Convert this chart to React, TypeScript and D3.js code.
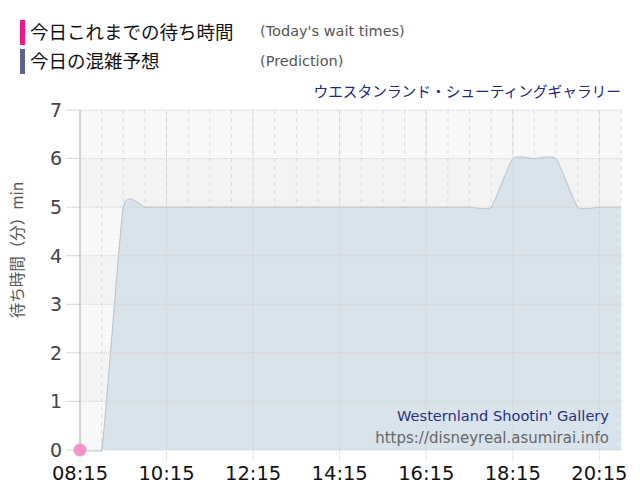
import React from 'react'
import * as d3 from 'd3'

// prediction, sampled every 30 min from 08:15 (last point lies past the visible end and is clipped)
const predTimes = ['08:15', '08:45', '09:15', '09:45', '10:15', '10:45', '11:15', '11:45', '12:15', '12:45',
    '13:15', '13:45', '14:15', '14:45', '15:15', '15:45', '16:15', '16:45', '17:15', '17:45',
    '18:15', '18:45', '19:15', '19:45', '20:15', '20:45', '21:15']
const predValues = [0, 0, 5, 5, 5, 5, 5, 5, 5, 5,
    5, 5, 5, 5, 5, 5, 5, 5, 5, 5,
    6, 6, 6, 5, 5, 5, 5]

const waitTimes = ['08:15']
const waitValues = [0]

const xTickLabels = ['08:15', '10:15', '12:15', '14:15', '16:15', '18:15', '20:15']
const yTicks = [0, 1, 2, 3, 4, 5, 6, 7]

const toMin = (s: string) => {
    const [h, m] = s.split(':').map(Number)
    return h * 60 + m
}

const margin = { top: 110, right: 19, bottom: 50, left: 80 }
const width = 640
const height = 500
const innerW = width - margin.left - margin.right
const innerH = height - margin.top - margin.bottom

const jp = '"Noto Sans CJK JP", sans-serif'
const latin = '"DejaVu Sans", Verdana, sans-serif'

export default function App() {
    const x = d3.scaleLinear().domain([toMin('08:15'), toMin('20:45')]).range([0, innerW])
    const y = d3.scaleLinear().domain([0, 7]).range([innerH, 0])

    const pred = predTimes.map((t, i) => [toMin(t), predValues[i]] as [number, number])
    const curve = d3.curveCardinal.tension(0.55)
    const area = d3.area<[number, number]>()
        .x(d => x(d[0])).y0(y(0)).y1(d => y(d[1]))
        .curve(curve)
    const line = d3.line<[number, number]>()
        .x(d => x(d[0])).y(d => y(d[1]))
        .curve(curve)

    const halfHours = d3.range(toMin('08:45'), toMin('20:45') + 1, 30)

    return (
        <svg width={width} height={height} style={{ position: 'absolute', left: 0, top: 0 }}>
            <defs>
                <pattern id="dots" width="4" height="4" patternUnits="userSpaceOnUse">
                    <rect width="4" height="4" fill="#f9f9f9" />
                    <rect x="1" y="1" width="1" height="1" fill="#ececec" />
                </pattern>
                <clipPath id="plotClip">
                    <rect x={0} y={0} width={innerW} height={innerH + 2} />
                </clipPath>
            </defs>

            {/* legend */}
            <rect x={20} y={20} width={5} height={25} fill="#f0168c" />
            <text x={30} y={39} fontFamily={jp} fontSize={18.5} fill="#111">今日これまでの待ち時間</text>
            <text x={260} y={36} fontFamily={latin} fontSize={14.5} fill="#555">(Today's wait times)</text>
            <rect x={20} y={49} width={5} height={25} fill="#5b6291" />
            <text x={30} y={68} fontFamily={jp} fontSize={18.5} fill="#111">今日の混雑予想</text>
            <text x={260} y={66} fontFamily={latin} fontSize={14.5} fill="#555">(Prediction)</text>

            <text x={621} y={97} textAnchor="end" fontFamily={jp} fontSize={14.7} fill="#23287a">
                ウエスタンランド・シューティングギャラリー
            </text>

            <text transform="translate(23,250) rotate(-90)" textAnchor="middle" fontFamily={jp} fontSize={15.5} fill="#555">
                待ち時間（分）min
            </text>

            <g transform={`translate(${margin.left},${margin.top})`}>
                {yTicks.slice(0, -1).map(v => (
                    <rect key={'b' + v} x={0} y={y(v + 1)} width={innerW} height={y(v) - y(v + 1)}
                        fill={v % 2 === 0 ? 'url(#dots)' : '#f3f3f3'} />
                ))}

                {halfHours.map(t => (
                    <line key={'v' + t} x1={x(t)} x2={x(t)} y1={0} y2={innerH}
                        stroke="#dcdcdc" strokeDasharray="4,4" />
                ))}

                <g clipPath="url(#plotClip)">
                    <path d={area(pred) ?? ''} fill="#d9e3eb" />
                    <path d={line(pred) ?? ''} fill="none" stroke="#b4c3ce" strokeWidth={1} />
                </g>

                {yTicks.map(v => (
                    <g key={'y' + v}>
                        <line x1={0} x2={innerW} y1={y(v)} y2={y(v)} stroke="#cfcfcf" strokeDasharray="1,1" />
                        <line x1={-14} x2={0} y1={y(v)} y2={y(v)} stroke="#d5d5d5" />
                        <text x={-18} y={y(v)} dy="0.36em" textAnchor="end" fontFamily={latin} fontSize={19} fill="#444">{v}</text>
                    </g>
                ))}

                {xTickLabels.map(s => (
                    <g key={'x' + s}>
                        <line x1={x(toMin(s))} x2={x(toMin(s))} y1={0} y2={innerH + 12}
                            stroke="#d0d0d0" strokeDasharray="1,1" />
                        <text x={x(toMin(s))} y={innerH + 30} textAnchor="middle" fontFamily={latin} fontSize={19.5} fill="#111">{s}</text>
                    </g>
                ))}

                <line x1={0} x2={0} y1={0} y2={innerH} stroke="#b8b8b8" />

                {waitTimes.map((t, i) => (
                    <circle key={'w' + t} cx={x(toMin(t))} cy={y(waitValues[i])} r={6.5} fill="#f48ac6" fillOpacity={0.9} />
                ))}

                <text x={529} y={311} textAnchor="end" fontFamily={latin} fontSize={14.6} fill="#2a2f7c">Westernland Shootin' Gallery</text>
                <text x={529} y={333} textAnchor="end" fontFamily={latin} fontSize={15} fill="#666">https://disneyreal.asumirai.info</text>
            </g>
        </svg>
    )
}
